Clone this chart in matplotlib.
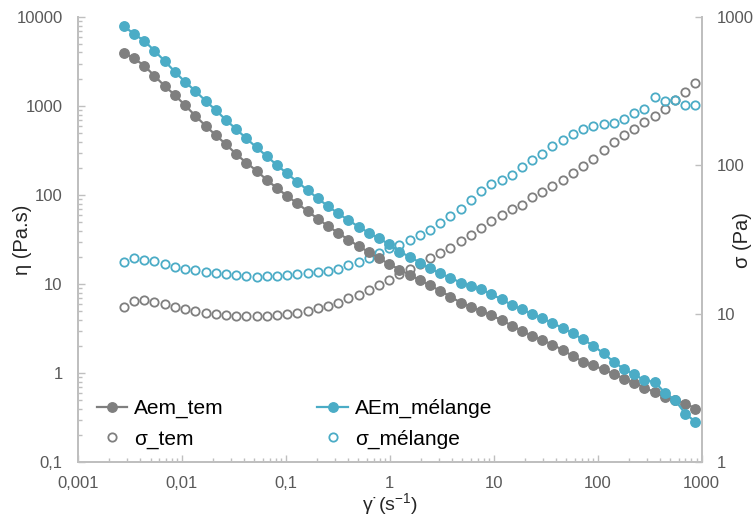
import matplotlib
matplotlib.use("Agg")
import matplotlib.pyplot as plt
from matplotlib import ticker

plt.rcParams['font.family'] = ['Liberation Sans', 'DejaVu Sans']
plt.rcParams['mathtext.fontset'] = 'custom'
plt.rcParams['mathtext.rm'] = 'Liberation Sans'
plt.rcParams['mathtext.it'] = 'Liberation Sans'

# shear rate (s-1)
shear_rate = [0.00277, 0.00347, 0.00435, 0.00545, 0.00684, 0.00857, 0.0107, 0.0135,
              0.0169, 0.0212, 0.0266, 0.0333, 0.0417, 0.0524, 0.0656, 0.0822,
              0.103, 0.129, 0.162, 0.203, 0.255, 0.319, 0.400, 0.502, 0.630,
              0.789, 0.989, 1.24, 1.56, 1.95, 2.44, 3.06, 3.84, 4.82, 6.04,
              7.57, 9.48, 11.9, 14.9, 18.7, 23.4, 29.4, 36.8, 46.2, 57.9, 72.6,
              91.0, 114, 143, 180, 225, 282, 353, 444, 556, 697, 873]

# viscosity (Pa.s)
eta_tem = [3980, 3440, 2840, 2190, 1680, 1330, 1025, 778, 601, 472, 372, 289, 231,
           188, 148, 120, 97.7, 80.7, 66.1, 54.3, 44.9, 37.6, 31.6, 26.7, 22.9,
           19.5, 16.8, 14.6, 12.7, 11.1, 9.66, 8.41, 7.24, 6.19, 5.56, 5.01, 4.47,
           3.94, 3.43, 2.98, 2.63, 2.35, 2.09, 1.82, 1.55, 1.34, 1.22, 1.10, 0.977,
           0.871, 0.776, 0.690, 0.610, 0.542, 0.501, 0.456, 0.401]
eta_melange = [7930, 6440, 5420, 4180, 3210, 2430, 1880, 1476, 1148, 902, 697, 552,
               434, 343, 274, 217, 175, 141, 114, 91.8, 75.2, 62.2, 52.4, 44.1,
               37.7, 32.6, 28.1, 23.1, 20.3, 17.5, 15.0, 13.2, 11.8, 10.4, 9.55,
               8.77, 7.71, 6.77, 5.85, 5.22, 4.61, 4.12, 3.67, 3.2, 2.79, 2.39,
               2.03, 1.67, 1.34, 1.11, 0.97, 0.83, 0.80, 0.60, 0.50, 0.35, 0.285]

# shear stress (Pa)
sigma_tem = [11.1, 12.2, 12.4, 12.0, 11.6, 11.1, 10.7, 10.5, 10.2, 9.94, 9.79, 9.69,
             9.69, 9.64, 9.69, 9.79, 9.94, 10.1, 10.4, 10.9, 11.3, 11.8, 12.7, 13.3,
             14.4, 15.6, 16.9, 18.5, 20.2, 21.8, 23.6, 25.5, 27.8, 30.9, 33.9, 37.6,
             42.3, 46.3, 50.5, 54.0, 61.4, 66.4, 72.5, 80, 88.3, 98.9, 111, 127,
             144, 160, 176, 197, 216, 240, 276, 313, 360]
sigma_melange = [22.4, 23.6, 23.2, 22.7, 21.5, 20.7, 20.0, 19.7, 19.2, 18.7, 18.5,
                 18.2, 18.0, 17.8, 17.9, 17.9, 18.2, 18.5, 18.7, 19.0, 19.4, 20.2,
                 21.3, 22.4, 23.8, 25.5, 27.6, 29.0, 31.3, 33.9, 36.6, 41.0, 45.5,
                 50.5, 58.3, 67.4, 74.8, 79.6, 86.1, 97.0, 109, 120, 135, 149, 162,
                 175, 184, 190, 194, 207, 224, 241, 288, 273, 276, 254, 254]

x_ticks = [0.001, 0.01, 0.1, 1, 10, 100, 1000]
x_labels = ['0,001', '0,01', '0,1', '1', '10', '100', '1000']
eta_ticks = [0.1, 1, 10, 100, 1000, 10000]
eta_labels = ['0,1', '1', '10', '100', '1000', '10000']
sigma_ticks = [1, 10, 100, 1000]
sigma_labels = ['1', '10', '100', '1000']

grey = '#7F7F7F'
blue = '#4BACC6'
spine_col = '#BFBFBF'
lab_col = '#595959'

fig = plt.figure(figsize=(7.56, 5.17), dpi=100)
ax = fig.add_axes([0.103, 0.106, 0.825, 0.861])
ax2 = ax.twinx()

l1, = ax.plot(shear_rate, eta_tem, '-o', color=grey, lw=1.6, ms=6.8, label='Aem_tem')
l2, = ax.plot(shear_rate, eta_melange, '-o', color=blue, lw=1.6, ms=6.8, label='AEm_mélange')
l3, = ax2.plot(shear_rate, sigma_tem, 'o', color=grey, mfc='none', mew=1.3, ms=6.0,
               label='σ_tem')
l4, = ax2.plot(shear_rate, sigma_melange, 'o', color=blue, mfc='none', mew=1.3, ms=6.0,
               label='σ_mélange')

ax.set_xscale('log')
ax.set_yscale('log')
ax2.set_yscale('log')
ax.set_xlim(0.001, 1000)
ax.set_ylim(0.1, 10000)
ax2.set_ylim(1, 1000)

ax.set_xticks(x_ticks, x_labels)
ax.set_yticks(eta_ticks, eta_labels)
ax2.set_yticks(sigma_ticks, sigma_labels)
ax.xaxis.set_minor_locator(ticker.LogLocator(base=10, subs=range(2, 10), numticks=20))
ax.yaxis.set_minor_locator(ticker.LogLocator(base=10, subs=range(2, 10), numticks=20))
ax.xaxis.set_minor_formatter(ticker.NullFormatter())
ax.yaxis.set_minor_formatter(ticker.NullFormatter())
ax2.yaxis.set_minor_locator(ticker.NullLocator())

for a in (ax, ax2):
    for s in a.spines.values():
        s.set_color(spine_col)
        s.set_linewidth(1.3)
    a.spines['top'].set_visible(False)
    a.tick_params(which='both', direction='in', color=spine_col, width=1.0,
                  labelcolor=lab_col, labelsize=12)
    a.tick_params(which='major', length=5)
    a.tick_params(which='minor', length=3)
ax.tick_params(axis='x', pad=10)
ax.tick_params(axis='y', pad=11)
ax2.tick_params(axis='y', pad=11)

ax.set_ylabel('η (Pa.s)', fontsize=14.5, color='#262626')
ax2.set_ylabel('σ (Pa)', fontsize=14.5, color='#262626')
ax.set_xlabel('γ\u02d9(s$^{-1}$)', fontsize=14, color='#262626')
ax.yaxis.set_label_coords(-0.074, 0.5)
ax2.yaxis.set_label_coords(1.051, 0.5)
ax.xaxis.set_label_coords(0.5, -0.064)

ax.legend([l1, l3, l2, l4], ['Aem_tem', 'σ_tem', 'AEm_mélange', 'σ_mélange'],
          ncol=2, frameon=False, fontsize=15, loc='lower left',
          bbox_to_anchor=(0.0, -0.012), handlelength=1.45, handletextpad=0.35,
          columnspacing=4.5, labelspacing=0.54)
# keep the legend above the twin axis
ax.set_zorder(ax2.get_zorder() + 1)
ax.patch.set_visible(False)

fig.savefig('out.png', dpi=100)
